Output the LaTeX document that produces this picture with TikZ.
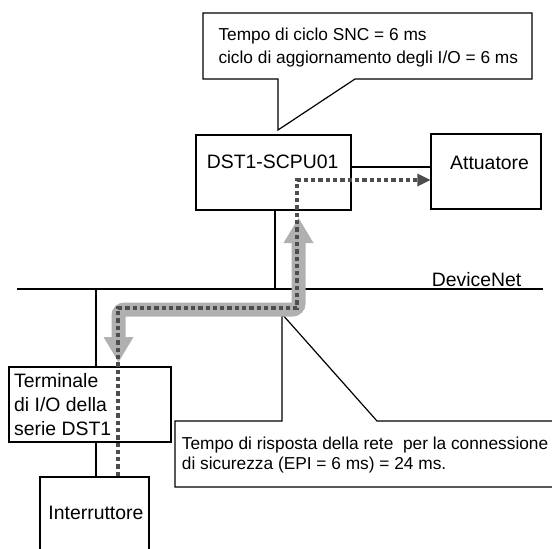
\documentclass[tikz,border=0pt]{standalone}
\usepackage{fontspec}
\setmainfont{Liberation Sans}
\usetikzlibrary{arrows.meta}
\definecolor{bandgray}{HTML}{B0B0B0}
\definecolor{dotgray}{HTML}{4D4D4D}
\newcommand\lblfont{\fontsize{19.4}{24}\selectfont}
\newcommand\calfont{\fontsize{17.3}{23}\selectfont}
\begin{document}
\begin{tikzpicture}[x=1pt,y=-1pt,
  ln/.style={draw=black,line width=1.2pt},
  boxshape/.style={ln,rectangle,inner sep=0pt},
  lbl/.style={anchor=base west,inner sep=0pt,font=\lblfont},
  cal/.style={anchor=base west,inner sep=0pt,font=\calfont},
  band/.style={draw=bandgray,line width=14pt,rounded corners=6pt},
  bandhead/.style={fill=bandgray},
  dotpath/.style={draw=dotgray,line width=4.3pt,dash pattern=on 4.3pt off 3pt},
  dothead/.style={fill=dotgray}]
\useasboundingbox (0,0) rectangle (552,549);
\begin{scope}
\clip (0,0) rectangle (552,549);
% top callout
\draw[ln] (203,13) -- (532,13) -- (532,79) -- (355,79) -- (278,130) -- (278,79) -- (203,79) -- cycle;
\node[cal] (c1a) at (218.3,40) {Tempo di ciclo SNC = 6 ms};
\node[cal] (c1b) at (218.3,63.3) {ciclo di aggiornamento degli I/O = 6 ms};
% boxes
\node[boxshape,minimum width=155pt,minimum height=75pt] (dst) at (273.5,172.5) {};
\node[lbl] (dsttxt) at (206.7,168.3) {DST1-SCPU01};
\node[boxshape,minimum width=110pt,minimum height=75pt] (att) at (486,171.5) {};
\node[lbl] (atttxt) at (450,169) {Attuatore};
\node[boxshape,minimum width=162pt,minimum height=75pt] (term) at (90,404.5) {};
\node[lbl] (t1) at (14,387.3) {Terminale};
\node[lbl] (t2) at (14,411) {di I/O della};
\node[lbl] (t3) at (14,435.7) {serie DST1};
\node[boxshape,minimum width=109pt,minimum height=100pt] (interr) at (94.5,527) {};
\node[lbl] (itxt) at (48.3,519.3) {Interruttore};
% bus
\coordinate (busL) at (17,289);
\coordinate (busR) at (543,289);
\draw[ln] (busL) -- (busR);
\node[lbl] (dnet) at (431.7,286.5) {DeviceNet};
% connectors
\coordinate (ad) at (0,167);
\draw[ln] (dst.east |- ad) -- (att.west |- ad);
\draw[ln] ([xshift=1.5pt]dst.south) -- ([xshift=1.5pt]dst.south |- busL);
\draw[ln] ([xshift=6pt]term.north) -- ([xshift=6pt]term.north |- busL);
\draw[ln] ([xshift=6pt]term.south) -- ([xshift=6pt]term.south |- interr.north);
% bottom callout
\draw[ln] (560,421) -- (377,421) -- (282,314) -- (282,421) -- (175,421) -- (175,487) -- (560,487);
\node[cal] (c2a) at (181.7,449) {Tempo di risposta della rete \ per la connessione};
\node[cal] (c2b) at (181.7,469.5) {di sicurezza (EPI = 6 ms) = 24 ms.};
% gray band with heads
\coordinate (bup) at (298.5,218);
\coordinate (bupb) at (298.5,243);
\coordinate (bc1) at (298.5,309.5);
\coordinate (bc2) at (118.5,309.5);
\coordinate (bdownb) at (118.5,337);
\coordinate (bdown) at (118.5,362);
\draw[band] (bupb) -- (bc1) -- (bc2) -- (bdownb);
\fill[bandhead] (bup) -- ([xshift=15pt]bupb) -- ([xshift=-15pt]bupb) -- cycle;
\fill[bandhead] (bdown) -- ([xshift=15pt]bdownb) -- ([xshift=-15pt]bdownb) -- cycle;
% dotted path
\coordinate (d0) at (118,476);
\coordinate (d1) at (118,308);
\coordinate (d2) at (297,308);
\coordinate (d3) at (297,180);
\coordinate (dtip) at (att.west |- d3);
\coordinate (dbase) at ([xshift=-13pt]dtip);
\draw[dotpath] (d0) -- (d1) -- (d2) -- (d3) -- (dbase);
\fill[dothead] (dtip) -- ([yshift=6.5pt]dbase) -- ([yshift=-6.5pt]dbase) -- cycle;
\end{scope}
\end{tikzpicture}
\end{document}
